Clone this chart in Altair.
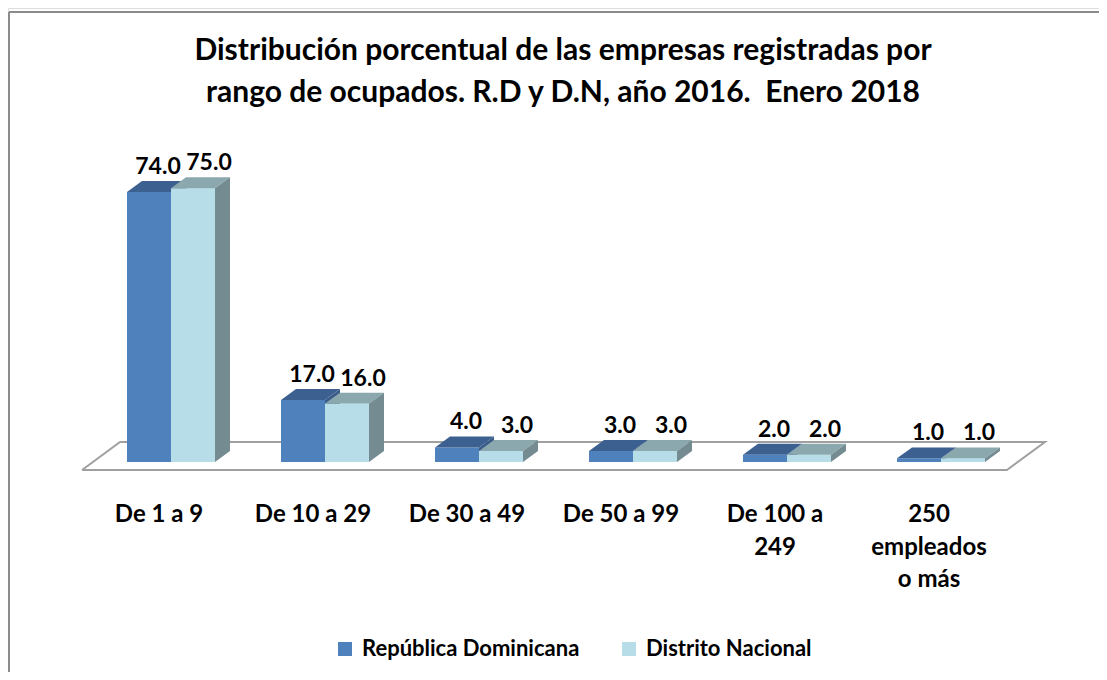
import altair as alt
import pandas as pd

# ---- data ----
categories = ["De 1 a 9", "De 10 a 29", "De 30 a 49", "De 50 a 99",
              "De 100 a\n249", "250\nempleados\no más"]
series = ["República Dominicana", "Distrito Nacional"]
rd_values = [74.0, 17.0, 4.0, 3.0, 2.0, 1.0]
dn_values = [75.0, 16.0, 3.0, 3.0, 2.0, 1.0]
title_lines = "Distribución porcentual de las empresas registradas por\nrango de ocupados. R.D y D.N, año 2016.\u00a0 Enero 2018"

# ---- style / geometry constants (in scale units) ----
BAR_W = 44 / 154          # width of one bar (group spacing = 1)
DX = 15 / 154             # 3-D depth, horizontal
DY = 3.0                  # 3-D depth, vertical (value units)
LABEL_OFF = [9 / 154, 16 / 154]
FRONT = ["#4f81bd", "#b7dee8"]
TOP = ["#3c6090", "#8ba8ae"]
SIDE = ["#3a5c88", "#748c91"]
W, H = 1091, 664
XDOM = [-119 / 154, (W - 119) / 154]
YDOM = [-(H - 454) / 3.65, 454 / 3.65]

fronts, sides, tops = [], [], []
for i, cat in enumerate(categories):
    for s, vals in enumerate([rd_values, dn_values]):
        v = vals[i]
        x1 = i + s * BAR_W
        x2 = x1 + BAR_W
        bid = f"{i}-{s}"
        fronts.append(dict(cat=cat, series=series[s], s=s, x1=x1, x2=x2, v=v,
                           lx=x1 + BAR_W / 2 + LABEL_OFF[s], ly=v + DY))
        sides.append(dict(bar=bid, s=s, x=x2, lo=0.0, hi=v))
        sides.append(dict(bar=bid, s=s, x=x2 + DX, lo=DY, hi=v + DY))
        tops.append(dict(bar=bid, s=s, yy=v, xa=x1, xb=x2))
        tops.append(dict(bar=bid, s=s, yy=v + DY, xa=x1 + DX, xb=x2 + DX))
fronts = pd.DataFrame(fronts)
sides = pd.DataFrame(sides)
tops = pd.DataFrame(tops)

cat_df = pd.DataFrame(dict(cat=categories,
                           x=[i + BAR_W - 12 / 154 for i in range(len(categories))]))

n = len(categories)
fl, fr = -0.292, n - 1 + 0.714
fdx, fdy, ffront = 38 / 154, 28 / 3.65, -8 / 3.65
floor = pd.DataFrame(dict(
    o=[0, 1, 2, 3, 4],
    x=[fl, fr, fr + fdx, fl + fdx, fl],
    y=[ffront, ffront, ffront + fdy, ffront + fdy, ffront]))

xs = alt.Scale(domain=XDOM, nice=False, zero=False)
ys = alt.Scale(domain=YDOM, nice=False, zero=False)
noax = None

floor_l = alt.Chart(floor).mark_line(color="#a0a0a0", strokeWidth=2).encode(
    x=alt.X("x:Q", scale=xs, axis=noax),
    y=alt.Y("y:Q", scale=ys, axis=noax),
    order="o:Q")

front_l = alt.Chart(fronts).mark_rect().encode(
    x=alt.X("x1:Q", scale=xs, axis=noax), x2="x2:Q",
    y=alt.Y("v:Q", scale=ys, axis=noax), y2=alt.datum(0),
    color=alt.Color("series:N",
                    scale=alt.Scale(domain=series, range=FRONT),
                    legend=alt.Legend(orient="none", legendX=326, legendY=630,
                                      direction="horizontal", title=None,
                                      symbolType="square", symbolSize=196,
                                      symbolStrokeWidth=0, labelFont="Lato",
                                      labelFontWeight="bold", labelFontSize=22,
                                      labelColor="black", labelOffset=6,
                                      columnPadding=38, labelLimit=500)))


def side_layer(s):
    return alt.Chart(sides[sides.s == s]).mark_area(color=SIDE[s], orient="vertical").encode(
        x=alt.X("x:Q", scale=xs, axis=noax),
        y=alt.Y("lo:Q", scale=ys, axis=noax), y2="hi:Q", detail="bar:N")


def top_layer(s):
    return alt.Chart(tops[tops.s == s]).mark_area(color=TOP[s], orient="horizontal").encode(
        y=alt.Y("yy:Q", scale=ys, axis=noax),
        x=alt.X("xa:Q", scale=xs, axis=noax), x2="xb:Q", detail="bar:N")


light_front = alt.Chart(fronts[fronts.s == 1]).mark_rect(color=FRONT[1]).encode(
    x=alt.X("x1:Q", scale=xs, axis=noax), x2="x2:Q",
    y=alt.Y("v:Q", scale=ys, axis=noax), y2=alt.datum(0))

val_l = alt.Chart(fronts).mark_text(font="Lato", fontWeight="bold", fontSize=23,
                                    color="black", baseline="alphabetic", dy=-7).encode(
    x=alt.X("lx:Q", scale=xs, axis=noax),
    y=alt.Y("ly:Q", scale=ys, axis=noax),
    text=alt.Text("v:Q", format=".1f"))

cat_l = alt.Chart(cat_df).mark_text(font="Lato", fontWeight="bold", fontSize=24,
                                    color="black", baseline="alphabetic",
                                    lineBreak="\n", lineHeight=32.5).encode(
    x=alt.X("x:Q", scale=xs, axis=noax),
    y=alt.value(514),
    text="cat:N")

title_l = alt.Chart(pd.DataFrame(dict(t=[title_lines]))).mark_text(
    font="Lato", fontWeight="bold", fontSize=30, color="black",
    baseline="alphabetic", lineBreak="\n", lineHeight=42, align="center").encode(
    x=alt.value(555), y=alt.value(52), text="t:N")

border_left = alt.Chart(pd.DataFrame(dict(a=[0]))).mark_rule(
    color="#8c8c8c", strokeWidth=2).encode(x=alt.value(1), y=alt.value(4), y2=alt.value(H))
border_top = alt.Chart(pd.DataFrame(dict(a=[0]))).mark_rule(
    color="#8c8c8c", strokeWidth=2).encode(x=alt.value(1), x2=alt.value(W), y=alt.value(4))

chart = alt.layer(
    floor_l, front_l,
    side_layer(0), top_layer(0),
    light_front, top_layer(1), side_layer(1),
    val_l, cat_l, title_l, border_left, border_top,
).properties(
    width=W, height=H, padding=0,
    autosize=alt.AutoSizeParams(type="none"),
).configure_view(stroke=None).configure(background="white")

chart.save("out.html", embed_options={"renderer": "svg", "actions": False})
